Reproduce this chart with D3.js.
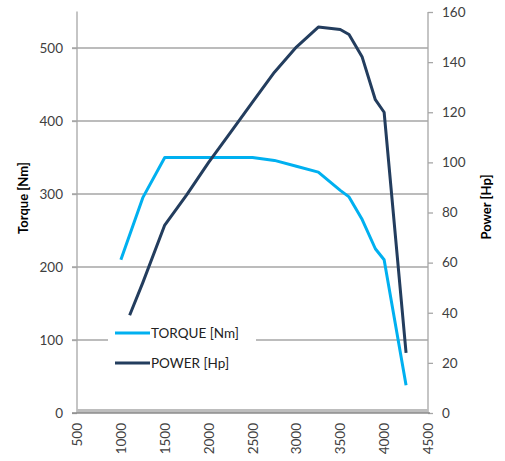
<!DOCTYPE html>
<html><head><meta charset="utf-8">
<script src="https://cdn.jsdelivr.net/npm/d3@7"></script>
<style>body{margin:0;background:#fff}svg{display:block}text{font-family:Lato,"Open Sans",sans-serif}</style>
</head><body>
<svg id="c" width="505" height="461"></svg>
<script>
const xTicks = [500,1000,1500,2000,2500,3000,3500,4000,4500];
const torqueTicks = [0,100,200,300,400,500];
const powerTicks = [0,20,40,60,80,100,120,140,160];
const torqueRpm = [1000,1250,1500,1750,2000,2250,2500,2750,3000,3250,3500,3600,3750,3900,4000,4250];
const torqueNm  = [210,295,350,350,350,350,350,346,338,330,305,296,265,225,210,38];
const powerRpm = [1100,1250,1500,1750,2000,2250,2500,2750,3000,3250,3500,3600,3750,3900,4000,4250];
const powerHp  = [39,52,75,87,100,112,124,136,146,154,153,151,142,125,120,24];
const seriesNames = ["TORQUE [Nm]","POWER [Hp]"];

const svg = d3.select("#c");
const x = d3.scaleLinear().domain([500,4500]).range([77,428]);
const yL = d3.scaleLinear().domain([0,550]).range([413,11.5]);
const yR = d3.scaleLinear().domain([0,160]).range([413,12]);
const grid = "#a6a6a6", txt = "#404040";

// gridlines
svg.append("g").selectAll("line").data(torqueTicks.filter(d=>d>0)).join("line")
  .attr("x1",72).attr("x2",428).attr("y1",d=>yL(d)).attr("y2",d=>yL(d))
  .attr("stroke",grid).attr("stroke-width",1.3);

// left axis
const gL = svg.append("g").attr("transform","translate(77,0)")
  .call(d3.axisLeft(yL).tickValues(torqueTicks).tickSize(5).tickPadding(9));
gL.select(".domain").attr("stroke",grid).attr("stroke-width",1.3).attr("d","M0,11.5V413");
gL.selectAll(".tick line").attr("stroke",grid).attr("stroke-width",1.3);
gL.selectAll("text").attr("font-size",13.5).attr("fill",txt).attr("font-family","Lato,sans-serif");

// right axis
const gR = svg.append("g").attr("transform","translate(428,0)")
  .call(d3.axisRight(yR).tickValues(powerTicks).tickSize(5).tickPadding(9));
gR.select(".domain").attr("stroke",grid).attr("stroke-width",1.3).attr("d","M0,12V413");
gR.selectAll(".tick line").attr("stroke",grid).attr("stroke-width",1.3);
gR.selectAll("text").attr("font-size",13.5).attr("fill",txt).attr("font-family","Lato,sans-serif");

// floor band
svg.append("rect").attr("x",77).attr("y",409).attr("width",351).attr("height",4).attr("fill","#bdbdbd");
svg.append("line").attr("x1",72).attr("x2",430).attr("y1",413).attr("y2",413).attr("stroke","#8c8c8c").attr("stroke-width",1.5);

// x labels
svg.append("g").selectAll("text").data(xTicks).join("text")
  .attr("transform",d=>`translate(${x(d)+5},423) rotate(-90)`)
  .attr("text-anchor","end").attr("font-size",13.5).attr("fill",txt).text(d=>d);

// axis titles
svg.append("text").attr("transform","translate(28,198) rotate(-90)").attr("text-anchor","middle")
  .attr("font-size",13).attr("font-weight","bold").attr("fill","#000").text("Torque [Nm]");
svg.append("text").attr("transform","translate(491,207) rotate(-90)").attr("text-anchor","middle")
  .attr("font-size",13).attr("font-weight","bold").attr("fill","#000").text("Power [Hp]");

// lines
const lt = d3.line().x((d,i)=>x(torqueRpm[i])).y(d=>yL(d));
const lp = d3.line().x((d,i)=>x(powerRpm[i])).y(d=>yR(d));
svg.append("path").attr("d",lt(torqueNm)).attr("fill","none").attr("stroke","#00b0f0").attr("stroke-width",3).attr("stroke-linejoin","round");
svg.append("path").attr("d",lp(powerHp)).attr("fill","none").attr("stroke","#233d5e").attr("stroke-width",3).attr("stroke-linejoin","round");

// legend
const lg = svg.append("g");
lg.append("rect").attr("x",108).attr("y",322).attr("width",148).attr("height",52).attr("fill","#fff");
const cols = ["#00b0f0","#233d5e"];
seriesNames.forEach((n,i)=>{
  const yy = 333 + i*30;
  lg.append("line").attr("x1",115).attr("x2",150).attr("y1",yy).attr("y2",yy).attr("stroke",cols[i]).attr("stroke-width",3);
  lg.append("text").attr("x",151).attr("y",yy+5).attr("font-size",13.5).attr("fill","#222").text(n);
});
</script>
</body></html>
